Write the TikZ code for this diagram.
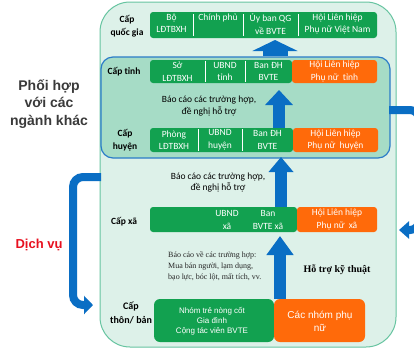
\documentclass[tikz,border=0pt]{standalone}
\usepackage{fontspec}
\setmainfont{Carlito}
\newfontfamily\arialf{Liberation Sans}
\newfontfamily\tnrf{Liberation Serif}
\usetikzlibrary{arrows.meta}
\definecolor{gboxc}{HTML}{12A150}
\definecolor{oboxc}{HTML}{FF6A0A}
\definecolor{barrowc}{HTML}{0A6EC4}
\definecolor{outerfill}{HTML}{DDF1E9}
\definecolor{outerdraw}{HTML}{66C4A0}
\definecolor{innerfill}{HTML}{A6DCC6}
\definecolor{innerdraw}{HTML}{2A7CC8}
\definecolor{redlbl}{HTML}{E8101F}
\definecolor{darklbl}{HTML}{3A3A3A}
\begin{document}
\begin{tikzpicture}[x=1pt,y=-1pt,
  box/.style={inner sep=0pt, rounded corners=3pt, draw=none},
  gbox/.style={box, fill=gboxc},
  obox/.style={box, fill=oboxc},
  wt/.style={text=white, align=center, inner sep=0pt, font=\fontsize{9.5}{12.5}\selectfont},
  lbl/.style={align=center, inner sep=0pt, font=\bfseries\fontsize{9.5}{13}\selectfont},
  note/.style={align=center, inner sep=0pt, font=\fontsize{9.5}{11.5}\selectfont},
  divider/.style={draw=white, line width=0.7pt},
  blockarrow/.style={draw=barrowc, line width=12pt}
]
\useasboundingbox (0,0) rectangle (414,349);
\clip (0,0) rectangle (414,349);
\fill[white] (0,0) rectangle (414,349);

% outer and inner frames
\node[draw=outerdraw, fill=outerfill, line width=1pt, rounded corners=30pt,
      minimum width=296pt, minimum height=345pt, inner sep=0pt] (outer) at (248,174.5) {};
\node[draw=innerdraw, fill=innerfill, line width=1.2pt, rounded corners=12pt,
      minimum width=289pt, minimum height=101pt, inner sep=0pt] (inner) at (245.5,107.5) {};

% ---- national level
\node[lbl] (lqg) at (127,26) {Cấp\\quốc gia};
\node[gbox, minimum width=227pt, minimum height=26pt] (qg) at (263.5,25) {};
\node[wt, anchor=north] (qg1) at (171.5,13.5) {Bộ\\LĐTBXH};
\node[wt, anchor=north] (qg2) at (218,13.5) {Chính phủ};
\node[wt, anchor=north] (qg3) at (270.5,13.5) {Ủy ban QG\\về BVTE};
\node[wt, anchor=north] (qg4) at (337.5,13.5) {Hội Liên hiệp\\Phụ nữ Việt Nam};
\draw[divider] (193,14) -- (193,36);
\draw[divider] (243,14) -- (243,36);
\draw[divider] (298,14) -- (298,36);

% ---- province level
\node[lbl] (ltinh) at (124,72) {Cấp tỉnh};
\node[gbox, minimum width=142pt, minimum height=23pt] (tinhg) at (221,71.5) {};
\node[obox, minimum width=85pt, minimum height=23pt] (tinho) at (334.5,71.5) {};
\node[wt] (t1) at (177.5,71.5) {Sở\\LĐTBXH};
\node[wt] (t2) at (225,71.5) {UBND\\tỉnh};
\node[wt] (t3) at (268.5,71.5) {Ban ĐH\\BVTE};
\node[wt] (t4) at (tinho) {Hội Liên hiệp\\Phụ nữ\ \ tỉnh};
\draw[divider] (205,61) -- (205,82);
\draw[divider] (245,61) -- (245,82);
\node[note] (n1) at (209,106) {Báo cáo các trường hợp,\\đề nghị hỗ trợ};

% ---- district level
\node[lbl] (lhuyen) at (125,140.5) {Cấp\\huyện};
\node[gbox, minimum width=143pt, minimum height=24pt] (huyeng) at (221.5,140) {};
\node[obox, minimum width=85pt, minimum height=24pt] (huyeno) at (335.5,140) {};
\node[wt] (h1) at (174,140) {Phòng\\LĐTBXH};
\node[wt] (h2) at (220,140) {UBND\\huyện};
\node[wt] (h3) at (267.5,140) {Ban ĐH\\BVTE};
\node[wt] (h4) at (huyeno) {Hội Liên hiệp\\Phụ nữ\ \ huyện};
\draw[divider] (198,129) -- (198,151);
\draw[divider] (242,129) -- (242,151);
\node[note] (n2) at (218,182.5) {Báo cáo các trường hợp,\\đề nghị hỗ trợ};

% ---- commune level
\node[lbl] (lxa) at (124,222) {Cấp xã};
\node[gbox, minimum width=147pt, minimum height=25pt] (xag) at (223.5,219.5) {};
\node[obox, minimum width=80pt, minimum height=25pt] (xao) at (337,219.5) {};
\node[wt] (x1) at (227,220) {UBND\\xã};
\node[wt] (x2) at (268,220) {Ban\\BVTE xã};
\node[wt] (x3) at (xao) {Hội Liên hiệp\\Phụ nữ\ \ xã};

% ---- village level
\node[lbl, font=\bfseries\fontsize{10}{14}\selectfont] (lthon) at (131,312.5) {Cấp\\thôn/ bản};
\node[gbox, rounded corners=6pt, minimum width=120pt, minimum height=43pt] (thong) at (214,320.5) {};
\node[obox, rounded corners=6pt, minimum width=91pt, minimum height=43pt] (thono) at (319.5,320.5) {};
\node[wt, font=\arialf\fontsize{8}{9.8}\selectfont] (th1) at (212,321) {Nhóm trẻ nòng cốt\\Gia đình\\Cộng tác viên BVTE};
\node[wt, font=\arialf\fontsize{10}{13}\selectfont] (th2) at (320,321) {Các nhóm phụ\\nữ};

\node[align=left, anchor=west, inner sep=0pt, text=black!85, font=\tnrf\fontsize{8}{11}\selectfont] (rep) at (168,266) {Báo cáo về các trường hợp:\\Mua bán người, lạm dụng,\\bạo lực, bóc lột, mất tích, vv.};
\node[inner sep=0pt, font=\tnrf\bfseries\fontsize{10}{12}\selectfont] (tech) at (337,270) {Hỗ trợ kỹ thuật};

% ---- side labels
\node[align=center, inner sep=0pt, text=darklbl, font=\arialf\bfseries\fontsize{14}{17.5}\selectfont] (coop) at (49,104) {Phối hợp\\với các\\ngành khác};
\node[inner sep=0pt, text=redlbl, font=\arialf\bfseries\fontsize{13}{15}\selectfont] (dv) at (39,245) {Dịch vụ};

% ---- upward block arrows
\coordinate (a1) at (275,40);
\draw[blockarrow, line width=25pt, -{Triangle[width=45pt,length=11pt]}] (a1 |- inner.north) -- (a1);
\coordinate (a2) at (279,90);
\draw[blockarrow, -{Triangle[width=27pt,length=15pt]}] (a2 |- huyeng.north) -- (a2);
\coordinate (a3) at (281,157);
\draw[blockarrow, -{Triangle[width=24pt,length=15pt]}] (a3 |- xag.north) -- (a3);
\coordinate (a4) at (280,236);
\draw[blockarrow, -{Triangle[width=26pt,length=19pt]}] (a4 |- thong.north) -- (a4);

% ---- side arrows
\coordinate (rstart) at (389,110);
\coordinate (rend) at (399,230);
\draw[draw=barrowc, line width=8pt, rounded corners=9pt, -{Triangle[width=17pt,length=10pt]}]
  (rstart) -- (419,110) -- (419,230) -- (rend);
\coordinate (lstart) at (101,177);
\coordinate (lend) at (93,305);
\draw[draw=barrowc, line width=8pt, rounded corners=10pt, -{Triangle[width=18pt,length=9pt]}]
  (lstart) -- (73,177) -- (73,305) -- (lend);
\end{tikzpicture}
\end{document}
